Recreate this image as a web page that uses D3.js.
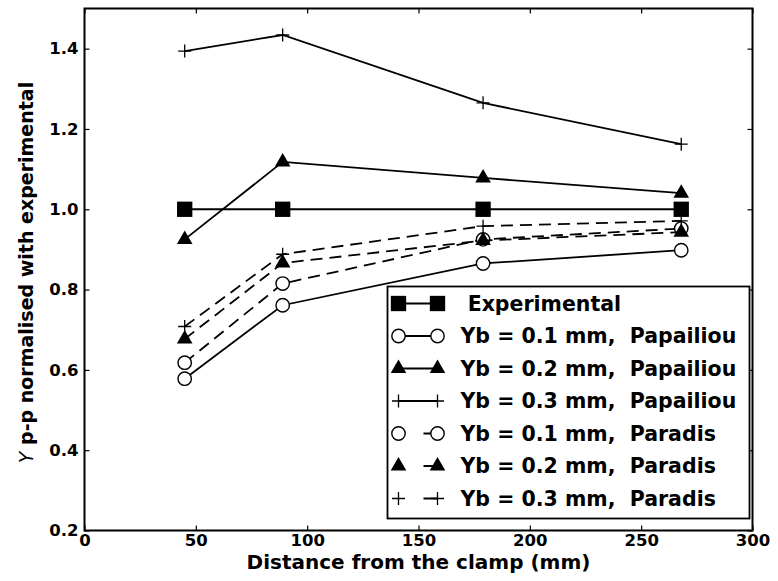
<!DOCTYPE html>
<html>
<head>
<meta charset="utf-8">
<script src="https://cdn.jsdelivr.net/npm/d3@7"></script>
<style>
  html, body { margin: 0; padding: 0; background: #fff; }
  svg text { font-family: "DejaVu Sans", sans-serif; font-weight: bold; fill: #000; }
</style>
</head>
<body>
<svg id="chart" width="778" height="581"></svg>
<script>
// Distance of each measuring point from the clamp (mm)
const distances = [45, 89, 179, 268];

// Peak-to-peak response normalised with the experimental value
const experimental   = [1.0, 1.0, 1.0, 1.0];
const papailiouYb01  = [0.578, 0.761, 0.865, 0.898];
const papailiouYb02  = [0.925, 1.118, 1.078, 1.040];
const papailiouYb03  = [1.394, 1.434, 1.265, 1.162];
const paradisYb01    = [0.618, 0.815, 0.925, 0.952];
const paradisYb02    = [0.677, 0.866, 0.922, 0.943];
const paradisYb03    = [0.708, 0.888, 0.958, 0.971];

const seriesLabels = [
  " Experimental",
  "Yb = 0.1 mm,  Papailiou",
  "Yb = 0.2 mm,  Papailiou",
  "Yb = 0.3 mm,  Papailiou",
  "Yb = 0.1 mm,  Paradis",
  "Yb = 0.2 mm,  Paradis",
  "Yb = 0.3 mm,  Paradis"
];

const xTicks = [0, 50, 100, 150, 200, 250, 300];
const yTicks = [0.2, 0.4, 0.6, 0.8, 1.0, 1.2, 1.4];

const series = [
  { values: experimental,  marker: "square",   dashed: false },
  { values: papailiouYb01, marker: "circle",   dashed: false },
  { values: papailiouYb02, marker: "triangle", dashed: false },
  { values: papailiouYb03, marker: "plus",     dashed: false },
  { values: paradisYb01,   marker: "circle",   dashed: true },
  { values: paradisYb02,   marker: "triangle", dashed: true },
  { values: paradisYb03,   marker: "plus",     dashed: true }
].map((s, i) => ({ ...s, label: seriesLabels[i] }));

const svg = d3.select("#chart");
const plot = { left: 84.5, right: 752.5, top: 8.5, bottom: 530.5 };

const x = d3.scaleLinear().domain([0, 300]).range([plot.left, plot.right]);
const y = d3.scaleLinear().domain([0.2, 1.5]).range([plot.bottom, plot.top]);

const dashPattern = "12,7";
const lineWidth = 1.8;

// marker painter shared by plot and legend
function drawMarker(g, type, cx, cy) {
  if (type === "square") {
    g.append("path")
      .attr("d", d3.symbol().type(d3.symbolSquare).size(235)())
      .attr("transform", `translate(${cx},${cy})`)
      .attr("fill", "#000");
  } else if (type === "circle") {
    g.append("circle")
      .attr("cx", cx).attr("cy", cy).attr("r", 6.7)
      .attr("fill", "#fff").attr("stroke", "#000").attr("stroke-width", 1.4);
  } else if (type === "triangle") {
    g.append("path")
      .attr("d", d3.symbol().type(d3.symbolTriangle).size(105)())
      .attr("transform", `translate(${cx},${cy})`)
      .attr("fill", "#000");
  } else if (type === "plus") {
    const h = 6.5;
    g.append("path")
      .attr("d", `M${cx - h},${cy}H${cx + h}M${cx},${cy - h}V${cy + h}`)
      .attr("stroke", "#000").attr("stroke-width", 1.3).attr("fill", "none");
  }
}

// series lines and markers
const line = d3.line().x(d => x(d[0])).y(d => y(d[1]));
const dataLayer = svg.append("g");
series.forEach(s => {
  const pts = distances.map((d, i) => [d, s.values[i]]);
  const g = dataLayer.append("g");
  g.append("path")
    .attr("d", line(pts))
    .attr("fill", "none")
    .attr("stroke", "#000")
    .attr("stroke-width", lineWidth)
    .attr("stroke-dasharray", s.dashed ? dashPattern : null);
  pts.forEach(p => drawMarker(g, s.marker, x(p[0]), y(p[1])));
});

// axes with inward ticks on all four sides
const tickLen = 5;
const axisBottom = d3.axisBottom(x).tickValues(xTicks).tickFormat(d3.format("d"))
  .tickSizeInner(-tickLen).tickSizeOuter(0).tickPadding(3.5);
const axisTop = d3.axisTop(x).tickValues(xTicks).tickFormat("")
  .tickSizeInner(-tickLen).tickSizeOuter(0);
const axisLeft = d3.axisLeft(y).tickValues(yTicks).tickFormat(d3.format(".1f"))
  .tickSizeInner(-tickLen).tickSizeOuter(0).tickPadding(6);
const axisRight = d3.axisRight(y).tickValues(yTicks).tickFormat("")
  .tickSizeInner(-tickLen).tickSizeOuter(0);

function styleAxis(g) {
  g.select(".domain").remove();
  g.selectAll(".tick line").attr("stroke", "#000").attr("stroke-width", 1.2);
  g.selectAll(".tick text")
    .style("font-family", "'DejaVu Sans', sans-serif")
    .style("font-weight", "bold")
    .style("font-size", "16.5px")
    .attr("fill", "#000");
}

svg.append("g").attr("transform", `translate(0,${plot.bottom})`).call(axisBottom).call(styleAxis);
svg.append("g").attr("transform", `translate(0,${plot.top})`).call(axisTop).call(styleAxis);
svg.append("g").attr("transform", `translate(${plot.left},0)`).call(axisLeft).call(styleAxis);
svg.append("g").attr("transform", `translate(${plot.right},0)`).call(axisRight).call(styleAxis);

// frame
svg.append("rect")
  .attr("x", plot.left).attr("y", plot.top)
  .attr("width", plot.right - plot.left).attr("height", plot.bottom - plot.top)
  .attr("fill", "none").attr("stroke", "#000").attr("stroke-width", 2);

// axis titles
svg.append("text")
  .attr("x", (plot.left + plot.right) / 2)
  .attr("y", 568.5)
  .attr("text-anchor", "middle")
  .style("font-size", "20px")
  .text("Distance from the clamp (mm)");

const yTitle = svg.append("text")
  .attr("transform", `translate(33,${(plot.top + plot.bottom) / 2 + 3}) rotate(-90)`)
  .attr("text-anchor", "middle")
  .style("font-size", "19px");
yTitle.append("tspan").style("font-style", "oblique").style("font-weight", "normal").text("Y");
yTitle.append("tspan").text(" p-p normalised with experimental");

// legend
const legend = { x: 387.5, y: 286.5, w: 362, h: 232, row0: 17, rowStep: 32.5 };
const lg = svg.append("g");
lg.append("rect")
  .attr("x", legend.x).attr("y", legend.y)
  .attr("width", legend.w).attr("height", legend.h)
  .attr("fill", "#fff").attr("stroke", "#000").attr("stroke-width", 1.8);

series.forEach((s, i) => {
  const cy = legend.y + legend.row0 + i * legend.rowStep;
  const x1 = legend.x + 11, x2 = legend.x + 50;
  const g = lg.append("g");
  g.append("line")
    .attr("x1", x1).attr("x2", x2).attr("y1", cy).attr("y2", cy)
    .attr("stroke", "#000").attr("stroke-width", lineWidth)
    .attr("stroke-dasharray", s.dashed ? "0,25,14,40" : null);
  drawMarker(g, s.marker, x1, cy);
  drawMarker(g, s.marker, x2, cy);
  g.append("text")
    .attr("x", legend.x + 73)
    .attr("y", cy)
    .attr("dy", "0.36em")
    .style("font-size", "20.5px")
    .style("white-space", "pre")
    .attr("xml:space", "preserve")
    .text(s.label);
});
</script>
</body>
</html>
